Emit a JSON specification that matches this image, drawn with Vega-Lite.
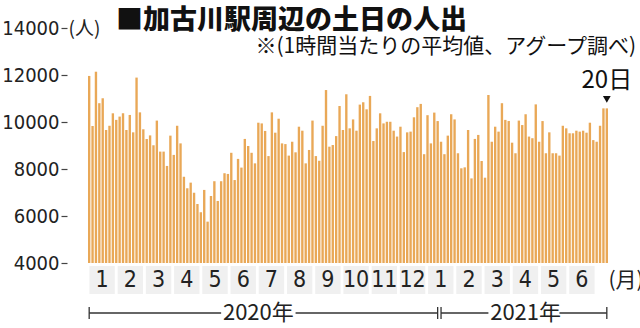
{
  "$schema": "https://vega.github.io/schema/vega-lite/v6.json",
  "background": "white",
  "padding": {"left": 1, "top": 7, "right": 0, "bottom": 0},
  "bounds": "flush",
  "spacing": 3,
  "title": {"text": "■加古川駅周辺の土日の人出", "anchor": "start", "frame": "group", "dx": 28, "offset": -16, "dy": 1, "font": "Noto Sans CJK JP", "fontSize": 27, "fontWeight": 900, "color": "#111"},
  "config": {"view": {"stroke": null}},
  "datasets": {
    "days": [
      {"d": "2020-01-04", "v": 11960}, {"d": "2020-01-05", "v": 9830}, {"d": "2020-01-11", "v": 12140}, {"d": "2020-01-12", "v": 10800},
      {"d": "2020-01-18", "v": 11010}, {"d": "2020-01-19", "v": 9660}, {"d": "2020-01-25", "v": 9840}, {"d": "2020-01-26", "v": 10370},
      {"d": "2020-02-01", "v": 10090}, {"d": "2020-02-02", "v": 10230}, {"d": "2020-02-08", "v": 10370}, {"d": "2020-02-09", "v": 9660},
      {"d": "2020-02-15", "v": 10300}, {"d": "2020-02-16", "v": 9560}, {"d": "2020-02-22", "v": 11890}, {"d": "2020-02-23", "v": 10410},
      {"d": "2020-02-29", "v": 9690},
      {"d": "2020-03-01", "v": 9280}, {"d": "2020-03-07", "v": 9430}, {"d": "2020-03-08", "v": 9010}, {"d": "2020-03-14", "v": 10060},
      {"d": "2020-03-15", "v": 8740}, {"d": "2020-03-21", "v": 8740}, {"d": "2020-03-22", "v": 8130}, {"d": "2020-03-28", "v": 9420},
      {"d": "2020-03-29", "v": 8600},
      {"d": "2020-04-04", "v": 9840}, {"d": "2020-04-05", "v": 9090}, {"d": "2020-04-11", "v": 7670}, {"d": "2020-04-12", "v": 7180},
      {"d": "2020-04-18", "v": 7420}, {"d": "2020-04-19", "v": 6990}, {"d": "2020-04-25", "v": 6510}, {"d": "2020-04-26", "v": 6160},
      {"d": "2020-05-02", "v": 7110}, {"d": "2020-05-03", "v": 5760}, {"d": "2020-05-09", "v": 6850}, {"d": "2020-05-10", "v": 7480},
      {"d": "2020-05-16", "v": 6640}, {"d": "2020-05-17", "v": 7480}, {"d": "2020-05-23", "v": 7820}, {"d": "2020-05-24", "v": 7790},
      {"d": "2020-05-30", "v": 8690}, {"d": "2020-05-31", "v": 7530},
      {"d": "2020-06-06", "v": 8430}, {"d": "2020-06-07", "v": 8060}, {"d": "2020-06-13", "v": 9280}, {"d": "2020-06-14", "v": 8980},
      {"d": "2020-06-20", "v": 8690}, {"d": "2020-06-21", "v": 8240}, {"d": "2020-06-27", "v": 9970}, {"d": "2020-06-28", "v": 9940},
      {"d": "2020-07-04", "v": 9620}, {"d": "2020-07-05", "v": 8550}, {"d": "2020-07-11", "v": 10410}, {"d": "2020-07-12", "v": 9545},
      {"d": "2020-07-18", "v": 10140}, {"d": "2020-07-19", "v": 9090}, {"d": "2020-07-25", "v": 9060}, {"d": "2020-07-26", "v": 8570},
      {"d": "2020-08-01", "v": 9160}, {"d": "2020-08-02", "v": 8710}, {"d": "2020-08-08", "v": 9800}, {"d": "2020-08-09", "v": 9630},
      {"d": "2020-08-15", "v": 8240}, {"d": "2020-08-16", "v": 8810}, {"d": "2020-08-22", "v": 10060}, {"d": "2020-08-23", "v": 8550},
      {"d": "2020-08-29", "v": 8350}, {"d": "2020-08-30", "v": 9840},
      {"d": "2020-09-05", "v": 11360}, {"d": "2020-09-06", "v": 8950}, {"d": "2020-09-12", "v": 9020}, {"d": "2020-09-13", "v": 9400},
      {"d": "2020-09-19", "v": 10680}, {"d": "2020-09-20", "v": 9660}, {"d": "2020-09-26", "v": 11180}, {"d": "2020-09-27", "v": 9730},
      {"d": "2020-10-03", "v": 10110}, {"d": "2020-10-04", "v": 9630}, {"d": "2020-10-10", "v": 10740}, {"d": "2020-10-11", "v": 10840},
      {"d": "2020-10-17", "v": 10540}, {"d": "2020-10-18", "v": 11110}, {"d": "2020-10-24", "v": 9190}, {"d": "2020-10-25", "v": 9730},
      {"d": "2020-10-31", "v": 10370},
      {"d": "2020-11-01", "v": 9940}, {"d": "2020-11-07", "v": 10010}, {"d": "2020-11-08", "v": 10010}, {"d": "2020-11-14", "v": 9630},
      {"d": "2020-11-15", "v": 9380}, {"d": "2020-11-21", "v": 9800}, {"d": "2020-11-22", "v": 8720}, {"d": "2020-11-28", "v": 9560},
      {"d": "2020-11-29", "v": 9590},
      {"d": "2020-12-05", "v": 10200}, {"d": "2020-12-06", "v": 10630}, {"d": "2020-12-12", "v": 10770}, {"d": "2020-12-13", "v": 8630},
      {"d": "2020-12-19", "v": 10290}, {"d": "2020-12-20", "v": 9090}, {"d": "2020-12-26", "v": 10400}, {"d": "2020-12-27", "v": 10040},
      {"d": "2021-01-02", "v": 9160}, {"d": "2021-01-03", "v": 8630}, {"d": "2021-01-09", "v": 9420}, {"d": "2021-01-10", "v": 10330},
      {"d": "2021-01-16", "v": 10110}, {"d": "2021-01-17", "v": 8670}, {"d": "2021-01-23", "v": 8030}, {"d": "2021-01-24", "v": 8070},
      {"d": "2021-01-30", "v": 9660}, {"d": "2021-01-31", "v": 7600},
      {"d": "2021-02-06", "v": 9280}, {"d": "2021-02-07", "v": 9450}, {"d": "2021-02-13", "v": 8340}, {"d": "2021-02-14", "v": 7630},
      {"d": "2021-02-20", "v": 11150}, {"d": "2021-02-21", "v": 9160}, {"d": "2021-02-27", "v": 9800}, {"d": "2021-02-28", "v": 9590},
      {"d": "2021-03-06", "v": 10800}, {"d": "2021-03-07", "v": 10090}, {"d": "2021-03-13", "v": 10040}, {"d": "2021-03-14", "v": 9120},
      {"d": "2021-03-20", "v": 8670}, {"d": "2021-03-21", "v": 10060}, {"d": "2021-03-27", "v": 9870}, {"d": "2021-03-28", "v": 10330},
      {"d": "2021-04-03", "v": 9380}, {"d": "2021-04-04", "v": 9310}, {"d": "2021-04-10", "v": 10750}, {"d": "2021-04-11", "v": 9160},
      {"d": "2021-04-17", "v": 10040}, {"d": "2021-04-18", "v": 8670}, {"d": "2021-04-24", "v": 9560}, {"d": "2021-04-25", "v": 8670},
      {"d": "2021-05-01", "v": 8670}, {"d": "2021-05-02", "v": 8570}, {"d": "2021-05-08", "v": 9840}, {"d": "2021-05-09", "v": 9730},
      {"d": "2021-05-15", "v": 9520}, {"d": "2021-05-16", "v": 9520}, {"d": "2021-05-22", "v": 9630}, {"d": "2021-05-23", "v": 9590},
      {"d": "2021-05-29", "v": 9630}, {"d": "2021-05-30", "v": 9545},
      {"d": "2021-06-05", "v": 9970}, {"d": "2021-06-06", "v": 9230}, {"d": "2021-06-12", "v": 9160}, {"d": "2021-06-13", "v": 9840},
      {"d": "2021-06-19", "v": 10580}, {"d": "2021-06-20", "v": 10580}
    ],
    "months": [
      {"m": "2020-01", "label": "1"}, {"m": "2020-02", "label": "2"}, {"m": "2020-03", "label": "3"}, {"m": "2020-04", "label": "4"},
      {"m": "2020-05", "label": "5"}, {"m": "2020-06", "label": "6"}, {"m": "2020-07", "label": "7"}, {"m": "2020-08", "label": "8"},
      {"m": "2020-09", "label": "9"}, {"m": "2020-10", "label": "10"}, {"m": "2020-11", "label": "11"}, {"m": "2020-12", "label": "12"},
      {"m": "2021-01", "label": "1"}, {"m": "2021-02", "label": "2"}, {"m": "2021-03", "label": "3"}, {"m": "2021-04", "label": "4"},
      {"m": "2021-05", "label": "5"}, {"m": "2021-06", "label": "6"}
    ],
    "years": [
      {"year": "2020年", "s": "2020-01-04", "e": "2020-12-27", "mid": "2020-06-27"},
      {"year": "2021年", "s": "2021-01-02", "e": "2021-06-20", "mid": "2021-03-28"}
    ],
    "segs": [
      {"s": "2020-01-04", "e": "2020-05-17"}, {"s": "2020-08-02", "e": "2020-12-27"},
      {"s": "2021-01-02", "e": "2021-02-20"}, {"s": "2021-05-02", "e": "2021-06-20"}
    ]
  },
  "vconcat": [
    {
      "width": 520,
      "height": 235,
      "title": {"text": "※(1時間当たりの平均値、アグープ調べ)", "anchor": "end", "frame": "group", "dx": 28, "offset": -39, "font": "Noto Sans CJK JP", "fontSize": 21, "fontWeight": 400, "color": "#111"},
      "layer": [
        {
          "data": {"name": "days"},
          "mark": {"type": "bar", "color": "#E9A857"},
          "encoding": {
            "x": {"field": "d", "type": "ordinal", "scale": {"paddingInner": 0.3, "paddingOuter": 0}, "axis": null},
            "y": {"field": "v", "type": "quantitative", "scale": {"domain": [4000, 14000], "zero": false, "nice": false},
              "axis": {"values": [4000, 6000, 8000, 10000, 12000, 14000], "format": "d", "title": "(人)", "titleAngle": 0, "titleX": 1, "titleY": 0,
                "titleAlign": "left", "titleBaseline": "middle", "titleFont": "Liberation Sans Narrow, Noto Sans CJK JP", "titleFontSize": 19,
                "titleFontWeight": "normal", "titleColor": "#222", "labelFont": "Liberation Sans Narrow, DejaVu Sans Condensed, sans-serif",
                "labelFontSize": 20, "labelColor": "#222", "labelPadding": 2, "offset": 21, "tickSize": 6, "tickColor": "#444", "tickWidth": 1.2,
                "domain": false, "grid": false}},
            "y2": {"datum": 4000}
          }
        },
        {
          "data": {"name": "days"},
          "transform": [{"filter": "datum.d === '2021-06-20'"}],
          "mark": {"type": "point", "shape": "triangle-down", "filled": true, "color": "#111", "opacity": 1, "size": 60, "yOffset": -9},
          "encoding": {"x": {"field": "d", "type": "ordinal"}, "y": {"field": "v", "type": "quantitative"}}
        },
        {
          "data": {"name": "days"},
          "transform": [{"filter": "datum.d === '2021-06-20'"}],
          "mark": {"type": "text", "text": "20日", "dy": -27, "font": "Liberation Sans Narrow, Noto Sans CJK JP", "fontSize": 24, "color": "#111", "baseline": "middle"},
          "encoding": {"x": {"field": "d", "type": "ordinal"}, "y": {"field": "v", "type": "quantitative"}}
        }
      ]
    },
    {
      "width": 508,
      "height": 28,
      "data": {"name": "months"},
      "encoding": {
        "x": {"field": "m", "type": "ordinal", "scale": {"paddingInner": 0.1, "paddingOuter": 0.05},
          "axis": {"labels": false, "ticks": false, "domain": false, "grid": false, "title": "(月)", "titleAngle": 0, "titleX": 520, "titleY": -14,
            "titleAlign": "left", "titleBaseline": "middle", "titleFont": "Liberation Sans Narrow, Noto Sans CJK JP", "titleFontSize": 21,
            "titleFontWeight": "normal", "titleColor": "#222"}}
      },
      "layer": [
        {"mark": {"type": "rect", "color": "#F0F0F0"}},
        {"mark": {"type": "text", "font": "Liberation Sans Narrow, DejaVu Sans Condensed, sans-serif", "fontSize": 23, "color": "#222", "baseline": "middle"},
          "encoding": {"text": {"field": "label"}}}
      ]
    },
    {
      "width": 520,
      "height": 32,
      "layer": [
        {
          "data": {"name": "days"},
          "mark": {"type": "text", "text": ""},
          "encoding": {"x": {"field": "d", "type": "ordinal", "scale": {"paddingInner": 0.3, "paddingOuter": 0}, "axis": null}}
        },
        {
          "data": {"name": "segs"},
          "mark": {"type": "rule", "color": "#333", "strokeWidth": 1.3},
          "encoding": {"x": {"field": "s", "type": "ordinal"}, "x2": {"field": "e"},
            "y": {"datum": 0, "type": "quantitative", "scale": {"domain": [-1, 1]}, "axis": null}}
        },
        {
          "data": {"name": "years"},
          "mark": {"type": "tick", "orient": "vertical", "size": 12, "thickness": 1.3, "color": "#333", "opacity": 1},
          "encoding": {"x": {"field": "s", "type": "ordinal"}, "y": {"datum": 0, "type": "quantitative"}}
        },
        {
          "data": {"name": "years"},
          "mark": {"type": "tick", "orient": "vertical", "size": 12, "thickness": 1.3, "color": "#333", "opacity": 1},
          "encoding": {"x": {"field": "e", "type": "ordinal"}, "y": {"datum": 0, "type": "quantitative"}}
        },
        {
          "data": {"name": "years"},
          "mark": {"type": "text", "font": "Liberation Sans Narrow, Noto Sans CJK JP", "fontSize": 22, "color": "#222", "baseline": "middle"},
          "encoding": {"x": {"field": "mid", "type": "ordinal"}, "y": {"datum": 0, "type": "quantitative"}, "text": {"field": "year"}}
        }
      ]
    }
  ]
}
